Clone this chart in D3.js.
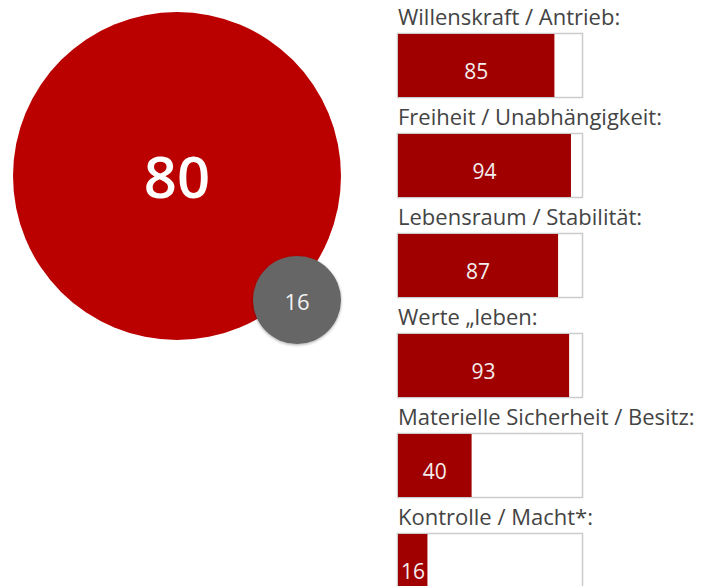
<!DOCTYPE html>
<html>
<head>
<meta charset="utf-8">
<script src="https://cdn.jsdelivr.net/npm/d3@7"></script>
<style>
  body { margin: 0; background: #fff; }
  text { font-family: "Open Sans", "DejaVu Sans", sans-serif; }
</style>
</head>
<body>
<svg id="chart" width="704" height="586"></svg>
<script>
// overall score + secondary score
const mainScore = 80
const sideScore = 16

// bar categories and values (0-100)
const categories = [
  "Willenskraft / Antrieb:",
  "Freiheit / Unabhängigkeit:",
  "Lebensraum / Stabilität:",
  "Werte \u201Eleben:",
  "Materielle Sicherheit / Besitz:",
  "Kontrolle / Macht*:"
]
const values = [85, 94, 87, 93, 40, 16]

const svg = d3.select('#chart')

// circles
const defs = svg.append('defs')
const f = defs.append('filter').attr('id', 'shadow').attr('x', '-20%').attr('y', '-20%').attr('width', '140%').attr('height', '140%')
f.append('feDropShadow').attr('dx', 0).attr('dy', 1).attr('stdDeviation', 1.5).attr('flood-color', '#000').attr('flood-opacity', 0.35)

svg.append('circle')
  .attr('cx', 177).attr('cy', 176).attr('r', 164)
  .attr('fill', '#bb0000')

svg.append('text')
  .attr('x', 177).attr('y', 175)
  .attr('text-anchor', 'middle').attr('dominant-baseline', 'central')
  .attr('fill', '#fff').style('font-size', '58px').style('font-weight', 600)
  .text(mainScore)

svg.append('circle')
  .attr('cx', 297).attr('cy', 300).attr('r', 44)
  .attr('fill', '#666666')
  .attr('filter', 'url(#shadow)')

svg.append('text')
  .attr('x', 297).attr('y', 301)
  .attr('text-anchor', 'middle').attr('dominant-baseline', 'central')
  .attr('fill', '#f2f2f2').style('font-size', '22px')
  .text(sideScore)

// bars
const barLeft = 398
const barW = 184
const x = d3.scaleLinear().domain([0, 100]).range([0, barW])
const y = d3.scaleBand().domain(categories).range([0, 600]).paddingInner(0)

const rows = svg.append('g')
  .selectAll('g')
  .data(categories)
  .join('g')
  .attr('transform', d => `translate(${barLeft},${y(d)})`)

rows.append('text')
  .attr('x', 0).attr('y', 25)
  .attr('fill', '#444')
  .style('font-size', '22px')
  .text(d => d)

rows.append('rect')
  .attr('x', -0.5).attr('y', 33.5)
  .attr('width', barW + 1).attr('height', 64)
  .attr('fill', '#fff').attr('stroke', '#cccccc').attr('stroke-width', 1.5)

rows.append('rect')
  .attr('x', 0).attr('y', 34)
  .attr('width', (d, i) => x(values[i])).attr('height', 63)
  .attr('fill', '#a00000')

rows.append('text')
  .attr('x', (d, i) => Math.max(x(values[i]) / 2, 15))
  .attr('y', 71)
  .attr('text-anchor', 'middle').attr('dominant-baseline', 'central')
  .attr('fill', '#f4eeee')
  .style('font-size', '21px')
  .text((d, i) => values[i])
</script>
</body>
</html>
